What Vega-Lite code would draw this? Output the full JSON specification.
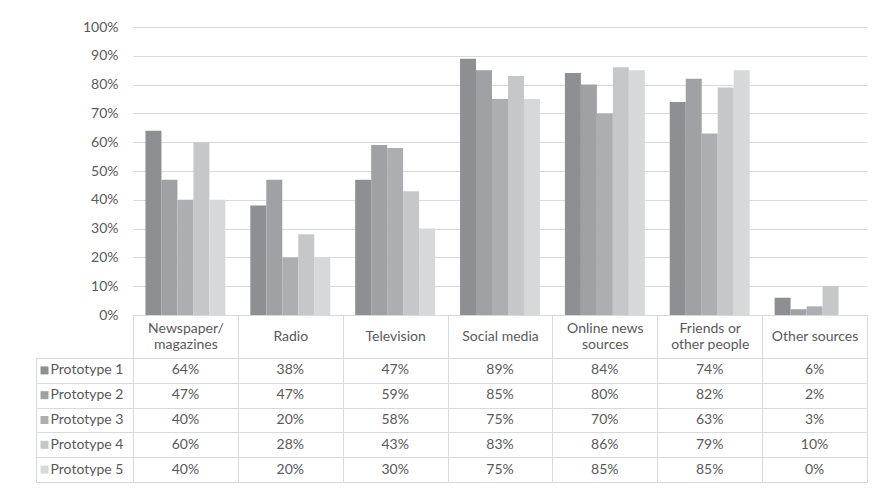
{
  "$schema": "https://vega.github.io/schema/vega-lite/v6.json",
  "background": "white",
  "padding": {"left": 35, "top": 20, "right": 9, "bottom": 5},
  "columns": 2,
  "spacing": {"row": 43, "column": 0},
  "bounds": "flush",
  "data": {"values": [
    {"category": "Newspaper/magazines", "prototype": "Prototype 1", "value": 0.64},
    {"category": "Newspaper/magazines", "prototype": "Prototype 2", "value": 0.47},
    {"category": "Newspaper/magazines", "prototype": "Prototype 3", "value": 0.40},
    {"category": "Newspaper/magazines", "prototype": "Prototype 4", "value": 0.60},
    {"category": "Newspaper/magazines", "prototype": "Prototype 5", "value": 0.40},
    {"category": "Radio", "prototype": "Prototype 1", "value": 0.38},
    {"category": "Radio", "prototype": "Prototype 2", "value": 0.47},
    {"category": "Radio", "prototype": "Prototype 3", "value": 0.20},
    {"category": "Radio", "prototype": "Prototype 4", "value": 0.28},
    {"category": "Radio", "prototype": "Prototype 5", "value": 0.20},
    {"category": "Television", "prototype": "Prototype 1", "value": 0.47},
    {"category": "Television", "prototype": "Prototype 2", "value": 0.59},
    {"category": "Television", "prototype": "Prototype 3", "value": 0.58},
    {"category": "Television", "prototype": "Prototype 4", "value": 0.43},
    {"category": "Television", "prototype": "Prototype 5", "value": 0.30},
    {"category": "Social media", "prototype": "Prototype 1", "value": 0.89},
    {"category": "Social media", "prototype": "Prototype 2", "value": 0.85},
    {"category": "Social media", "prototype": "Prototype 3", "value": 0.75},
    {"category": "Social media", "prototype": "Prototype 4", "value": 0.83},
    {"category": "Social media", "prototype": "Prototype 5", "value": 0.75},
    {"category": "Online news sources", "prototype": "Prototype 1", "value": 0.84},
    {"category": "Online news sources", "prototype": "Prototype 2", "value": 0.80},
    {"category": "Online news sources", "prototype": "Prototype 3", "value": 0.70},
    {"category": "Online news sources", "prototype": "Prototype 4", "value": 0.86},
    {"category": "Online news sources", "prototype": "Prototype 5", "value": 0.85},
    {"category": "Friends or other people", "prototype": "Prototype 1", "value": 0.74},
    {"category": "Friends or other people", "prototype": "Prototype 2", "value": 0.82},
    {"category": "Friends or other people", "prototype": "Prototype 3", "value": 0.63},
    {"category": "Friends or other people", "prototype": "Prototype 4", "value": 0.79},
    {"category": "Friends or other people", "prototype": "Prototype 5", "value": 0.85},
    {"category": "Other sources", "prototype": "Prototype 1", "value": 0.06},
    {"category": "Other sources", "prototype": "Prototype 2", "value": 0.02},
    {"category": "Other sources", "prototype": "Prototype 3", "value": 0.03},
    {"category": "Other sources", "prototype": "Prototype 4", "value": 0.10},
    {"category": "Other sources", "prototype": "Prototype 5", "value": 0.00}
  ]},
  "concat": [
    {
      "width": 97,
      "height": 288,
      "data": {"values": []},
      "mark": "point",
      "view": {"stroke": null}
    },
    {
      "width": 734,
      "height": 288,
      "view": {"stroke": null},
      "mark": {"type": "bar", "strokeWidth": 0},
      "encoding": {
        "x": {
          "field": "category", "type": "nominal",
          "sort": ["Newspaper/magazines", "Radio", "Television", "Social media", "Online news sources", "Friends or other people", "Other sources"],
          "scale": {"paddingInner": 0, "paddingOuter": 0},
          "axis": {
            "title": null,
            "labelAngle": 0,
            "domainColor": "#d9d9d9",
            "tickColor": "#d9d9d9",
            "tickBand": "extent",
            "tickSize": 43,
            "labelPadding": -21.5,
            "labelBaseline": {
              "condition": {"test": "indexof(['Newspaper/magazines', 'Online news sources', 'Friends or other people'], datum.value) >= 0", "value": "line-bottom"},
              "value": "middle"
            },
            "labelLineHeight": 16,
            "labelExpr": "datum.value == 'Newspaper/magazines' ? ['Newspaper/', 'magazines'] : datum.value == 'Online news sources' ? ['Online news', 'sources'] : datum.value == 'Friends or other people' ? ['Friends or', 'other people'] : datum.label"
          }
        },
        "xOffset": {
          "field": "prototype", "type": "nominal",
          "scale": {"paddingInner": 0, "paddingOuter": 0.78}
        },
        "y": {
          "field": "value", "type": "quantitative",
          "scale": {"domain": [0, 1]},
          "axis": {
            "title": null,
            "format": ".0%",
            "values": [0, 0.1, 0.2, 0.3, 0.4, 0.5, 0.6, 0.7, 0.8, 0.9, 1],
            "domain": false,
            "ticks": false,
            "labelPadding": 15,
            "gridColor": "#d9d9d9"
          }
        },
        "color": {
          "field": "prototype", "type": "nominal",
          "scale": {"range": ["#8e8f93", "#a0a1a4", "#adaeb1", "#c6c7c9", "#d7d8da"]},
          "legend": null
        }
      }
    },
    {
      "width": 97,
      "height": 124,
      "view": {"stroke": "#d9d9d9"},
      "transform": [{"aggregate": [{"op": "count", "as": "n"}], "groupby": ["prototype"]}],
      "encoding": {
        "y": {
          "field": "prototype", "type": "nominal",
          "scale": {"paddingInner": 0, "paddingOuter": 0},
          "axis": {"title": null, "labels": false, "ticks": false, "domain": false, "grid": true, "tickBand": "extent", "gridColor": "#d9d9d9"}
        }
      },
      "layer": [
        {
          "mark": {"type": "square", "size": 64, "opacity": 1, "xOffset": -40},
          "encoding": {
            "color": {"field": "prototype", "type": "nominal", "legend": null}
          }
        },
        {
          "mark": {"type": "text", "align": "left", "dx": -34, "fontSize": 14, "fontWeight": "normal", "color": "#595959", "font": "Lato"},
          "encoding": {"text": {"field": "prototype"}}
        }
      ]
    },
    {
      "width": 734,
      "height": 124,
      "view": {"stroke": "#d9d9d9"},
      "mark": {"type": "text", "fontSize": 14, "color": "#595959", "font": "Lato"},
      "encoding": {
        "x": {
          "field": "category", "type": "nominal",
          "sort": ["Newspaper/magazines", "Radio", "Television", "Social media", "Online news sources", "Friends or other people", "Other sources"],
          "scale": {"paddingInner": 0, "paddingOuter": 0},
          "axis": {"title": null, "labels": false, "ticks": false, "domain": false, "grid": true, "tickBand": "extent", "gridColor": "#d9d9d9"}
        },
        "y": {
          "field": "prototype", "type": "nominal",
          "scale": {"paddingInner": 0, "paddingOuter": 0},
          "axis": {"title": null, "labels": false, "ticks": false, "domain": false, "grid": true, "tickBand": "extent", "gridColor": "#d9d9d9"}
        },
        "text": {"field": "value", "type": "quantitative", "format": ".0%"}
      }
    }
  ],
  "config": {
    "font": "Lato",
    "axis": {"labelFont": "Lato", "labelFontSize": 14, "labelColor": "#595959"}
  }
}
